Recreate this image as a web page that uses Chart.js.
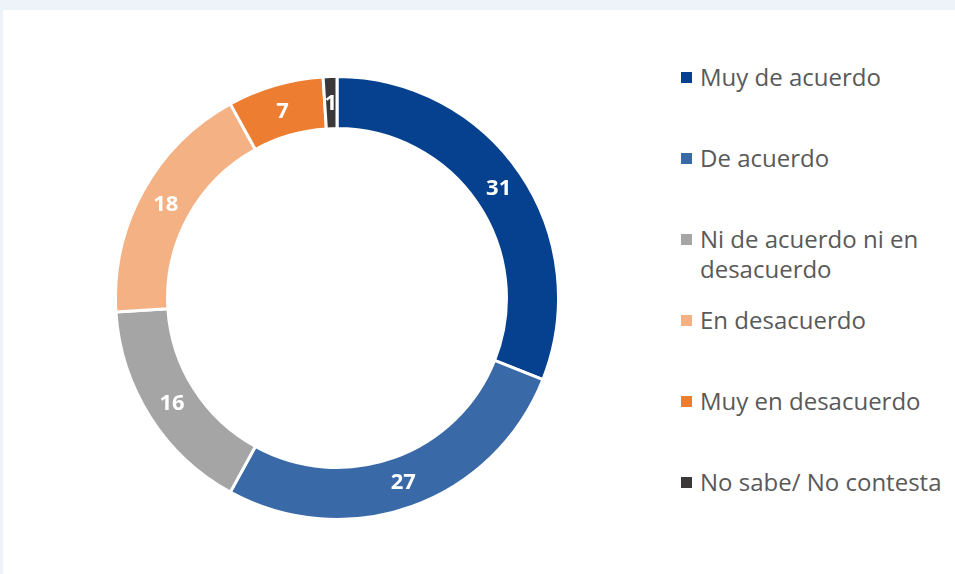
<!DOCTYPE html>
<html>
<head>
<meta charset="utf-8">
<script src="https://cdn.jsdelivr.net/npm/chart.js@4/dist/chart.umd.min.js"></script>
<style>
  html, body { margin: 0; padding: 0; width: 955px; height: 574px; overflow: hidden; background: #eef3fa; }
  #panel { position: absolute; left: 3px; top: 10px; right: 0; bottom: 0; background: #fff; }
  #wrap { position: absolute; left: 114px; top: 75px; width: 446px; height: 446px; }
  #legend { position: absolute; left: 681px; top: 62px;
    font-family: "Open Sans", sans-serif; font-size: 24px; line-height: 30px; color: #595959; }
  .item { display: flex; align-items: flex-start; height: 81px; }
  .box { width: 11px; height: 11px; margin-top: 10px; margin-right: 8px; flex: none; }
  .txt { width: 250px; }
</style>
</head>
<body>
<div id="panel"></div>
<div id="wrap"><canvas id="pie"></canvas></div>
<div id="legend"></div>
<script>
const labels = ["Muy de acuerdo", "De acuerdo", "Ni de acuerdo ni en desacuerdo", "En desacuerdo", "Muy en desacuerdo", "No sabe/ No contesta"];
const values = [31, 27, 16, 18, 7, 1];
const colors = ["#06418f", "#3a69a8", "#a5a5a5", "#f4b183", "#ed7d31", "#3a3838"];

// legend
document.getElementById("legend").innerHTML = labels.map((l, i) =>
  `<div class="item"><span class="box" style="background:${colors[i]}"></span><span class="txt">${l}</span></div>`
).join("");

// numbers inside the ring
const valueLabels = {
  id: "valueLabels",
  afterDatasetsDraw(chart) {
    const ctx = chart.ctx;
    const meta = chart.getDatasetMeta(0);
    ctx.save();
    ctx.font = "bold 22px 'Open Sans', sans-serif";
    ctx.fillStyle = "#fff";
    ctx.textAlign = "center";
    ctx.textBaseline = "middle";
    meta.data.forEach((arc, i) => {
      const p = arc.tooltipPosition();
      ctx.fillText(values[i], p.x, p.y + 1);
    });
    ctx.restore();
  }
};

new Chart(document.getElementById("pie").getContext("2d"), {
  type: "doughnut",
  data: {
    labels: labels,
    datasets: [{
      data: values,
      backgroundColor: colors,
      borderColor: "#fff",
      borderWidth: 3
    }]
  },
  options: {
    responsive: true,
    maintainAspectRatio: false,
    animation: false,
    cutout: "76.5%",
    layout: { padding: 0 },
    plugins: {
      legend: { display: false },
      tooltip: { enabled: false }
    }
  },
  plugins: [valueLabels]
});
</script>
</body>
</html>
